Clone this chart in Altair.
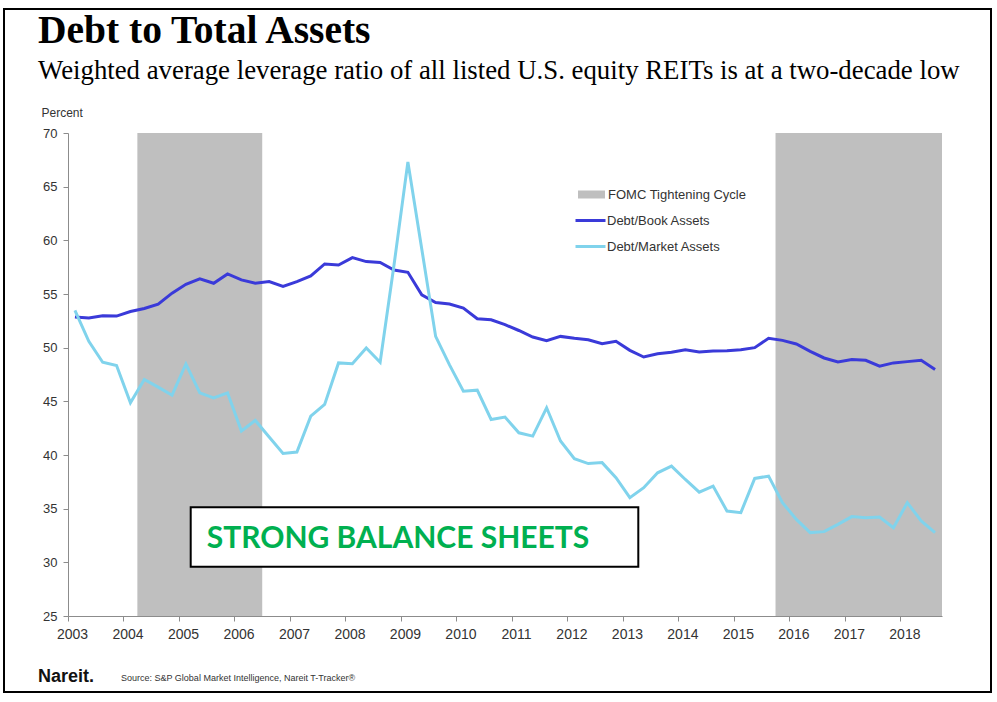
import altair as alt
import pandas as pd

# ---------------- data ----------------
start_year = 2003  # first quarter: 2003 Q1, quarterly through 2018 Q3
book = [52.85, 52.76, 52.97, 52.94, 53.37, 53.65, 54.06, 55.08, 55.91, 56.41,
        56.0, 56.87, 56.32, 56.0, 56.16, 55.7, 56.16, 56.69, 57.8, 57.7,
        58.39, 58.02, 57.93, 57.24, 57.02, 54.92, 54.2, 54.06, 53.68, 52.69,
        52.6, 52.14, 51.6, 50.99, 50.65, 51.05, 50.87, 50.74, 50.37, 50.59,
        49.75, 49.13, 49.44, 49.57, 49.81, 49.6, 49.69, 49.72, 49.81, 50.0,
        50.87, 50.68, 50.34, 49.66, 49.04, 48.67, 48.89, 48.82, 48.27, 48.58,
        48.7, 48.82, 47.96]
market = [53.47, 50.59, 48.64, 48.33, 44.86, 47.03, 46.32, 45.57, 48.48, 45.79,
          45.33, 45.79, 42.23, 43.22, 41.67, 40.15, 40.28, 43.62, 44.71, 48.58,
          48.51, 49.97, 48.64, 57.7, 67.31, 59.2, 51.05, 48.4, 45.94, 46.04,
          43.31, 43.53, 42.07, 41.76, 44.4, 41.3, 39.66, 39.2, 39.29, 37.89,
          36.03, 36.95, 38.34, 38.96, 37.72, 36.54, 37.1, 34.78, 34.63, 37.82,
          38.03, 35.56, 34.0, 32.77, 32.86, 33.54, 34.26, 34.16, 34.22, 33.23,
          35.56, 33.85, 32.77]
series_names = ["Debt/Book Assets", "Debt/Market Assets"]
series_colors = ["#3A3AD9", "#80D3EC"]
band_label = ["FOMC Tightening Cycle"]
band_starts = [2004.25, 2015.75]
band_ends = [2006.5, 2018.75]
year_ticks = list(range(2003, 2019))
y_ticks = list(range(25, 71, 5))
title_text = "Debt to Total Assets"
subtitle_text = "Weighted average leverage ratio of all listed U.S. equity REITs is at a two-decade low"
annotation_text = ["STRONG BALANCE SHEETS"]
logo_text = ["Nareit."]
source_text = ["Source: S&P Global Market Intelligence, Nareit T-Tracker®"]

# ---------------- tables ----------------
n = len(book)
t = [start_year + i / 4 + 0.125 for i in range(n)]
lines_df = pd.DataFrame({
    "t": t + t,
    "value": book + market,
    "series": [series_names[0]] * n + [series_names[1]] * n,
})
band_df = pd.DataFrame({"start": band_starts, "end": band_ends,
                        "label": band_label * len(band_starts)})

W, H = 874, 483
AXIS_GRAY = "#8C8C8C"
TEXT = "#333333"
SANS = "Liberation Sans"

x_scale = alt.Scale(domain=[2003, 2018.75], nice=False, zero=False)
y_scale = alt.Scale(domain=[25, 70], nice=False, zero=False)

x_axis = alt.Axis(values=year_ticks, format="d", grid=False, domainColor=AXIS_GRAY,
                  tickColor=AXIS_GRAY, tickSize=5, labelFont=SANS, labelFontSize=14,
                  labelColor=TEXT, labelPadding=6, labelOffset=4, labelFlush=False,
                  labelOverlap=False)
y_axis = alt.Axis(values=y_ticks, grid=False, domainColor=AXIS_GRAY, tickColor=AXIS_GRAY,
                  tickSize=5, labelFont=SANS, labelFontSize=13, labelColor=TEXT,
                  labelPadding=6, title="Percent", titleAngle=0, titleX=-27, titleY=-21,
                  titleAlign="left", titleBaseline="middle", titleFont=SANS,
                  titleFontSize=12, titleFontWeight="normal", titleColor=TEXT)

band_legend = alt.Legend(title=None, orient="none", legendX=517, legendY=55, padding=0,
                         symbolType="M-2.7,-0.8L2.7,-0.8L2.7,0.8L-2.7,0.8Z",
                         symbolSize=100, symbolStrokeWidth=0, labelOffset=10,
                         labelFont=SANS, labelFontSize=13, labelColor=TEXT)
line_legend = alt.Legend(title=None, orient="none", legendX=516, legendY=81, padding=0,
                         symbolType="M-3,0L3,0", symbolSize=100, symbolStrokeWidth=3,
                         labelOffset=10, rowPadding=12,
                         labelFont=SANS, labelFontSize=13, labelColor=TEXT)

bands = alt.Chart(band_df).mark_rect().encode(
    x=alt.X("start:Q", scale=x_scale, axis=x_axis, title=None),
    x2="end:Q",
    y=alt.Y(datum=70, type="quantitative", scale=y_scale, axis=y_axis),
    y2=alt.datum(25),
    fill=alt.Fill("label:N", scale=alt.Scale(domain=band_label, range=["#BFBFBF"]),
                  legend=band_legend),
)

def series_line(name):
    return alt.Chart(lines_df).transform_filter(
        alt.datum.series == name
    ).mark_line(strokeWidth=3).encode(
        x=alt.X("t:Q", scale=x_scale, axis=x_axis, title=None),
        y=alt.Y("value:Q", scale=y_scale, axis=y_axis),
        stroke=alt.Stroke("series:N", scale=alt.Scale(domain=series_names, range=series_colors),
                          legend=line_legend),
    )

book_line = series_line(series_names[0])
market_line = series_line(series_names[1])

ann_df = pd.DataFrame({"label": annotation_text})
box = alt.Chart(ann_df).mark_rect(fill="white", stroke="black", strokeWidth=2).encode(
    x=alt.value(122.7), x2=alt.value(570.3), y=alt.value(374.3), y2=alt.value(433.7))
box_text = alt.Chart(ann_df).mark_text(align="left", baseline="alphabetic", font="Lato",
                                       fontWeight="bold", fontSize=30, color="#00B050").encode(
    x=alt.value(138.7), y=alt.value(415.3), text="label:N")

frame = alt.Chart(ann_df).mark_rect(fillOpacity=0, stroke="black", strokeWidth=2).encode(
    x=alt.value(-64), x2=alt.value(923), y=alt.value(-124), y2=alt.value(559))

logo = alt.Chart(pd.DataFrame({"label": logo_text})).mark_text(
    align="left", baseline="alphabetic", font=SANS, fontWeight="bold", fontSize=18,
    color="#111111").encode(x=alt.value(-30), y=alt.value(549), text="label:N")
source = alt.Chart(pd.DataFrame({"label": source_text})).mark_text(
    align="left", baseline="middle", font=SANS, fontSize=9, color=TEXT).encode(
    x=alt.value(53), y=alt.value(545), text="label:N")

chart = alt.layer(bands, book_line, market_line, box, box_text, frame, logo, source).properties(
    width=W, height=H,
    autosize=alt.AutoSizeParams(type="none"),
    padding={"left": 68, "top": 133, "right": 55, "bottom": 86},
    background="white",
    title=alt.Title(title_text, subtitle=subtitle_text, anchor="start", frame="group",
                    dx=-30, dy=98, offset=20, font="Liberation Serif", fontSize=39.5,
                    fontWeight="bold", color="black", subtitleFont="Liberation Serif",
                    subtitleFontSize=26.8, subtitleColor="black", subtitlePadding=7),
).configure_view(strokeWidth=0)

chart.save("out.html", embed_options={"renderer": "svg", "actions": False})
